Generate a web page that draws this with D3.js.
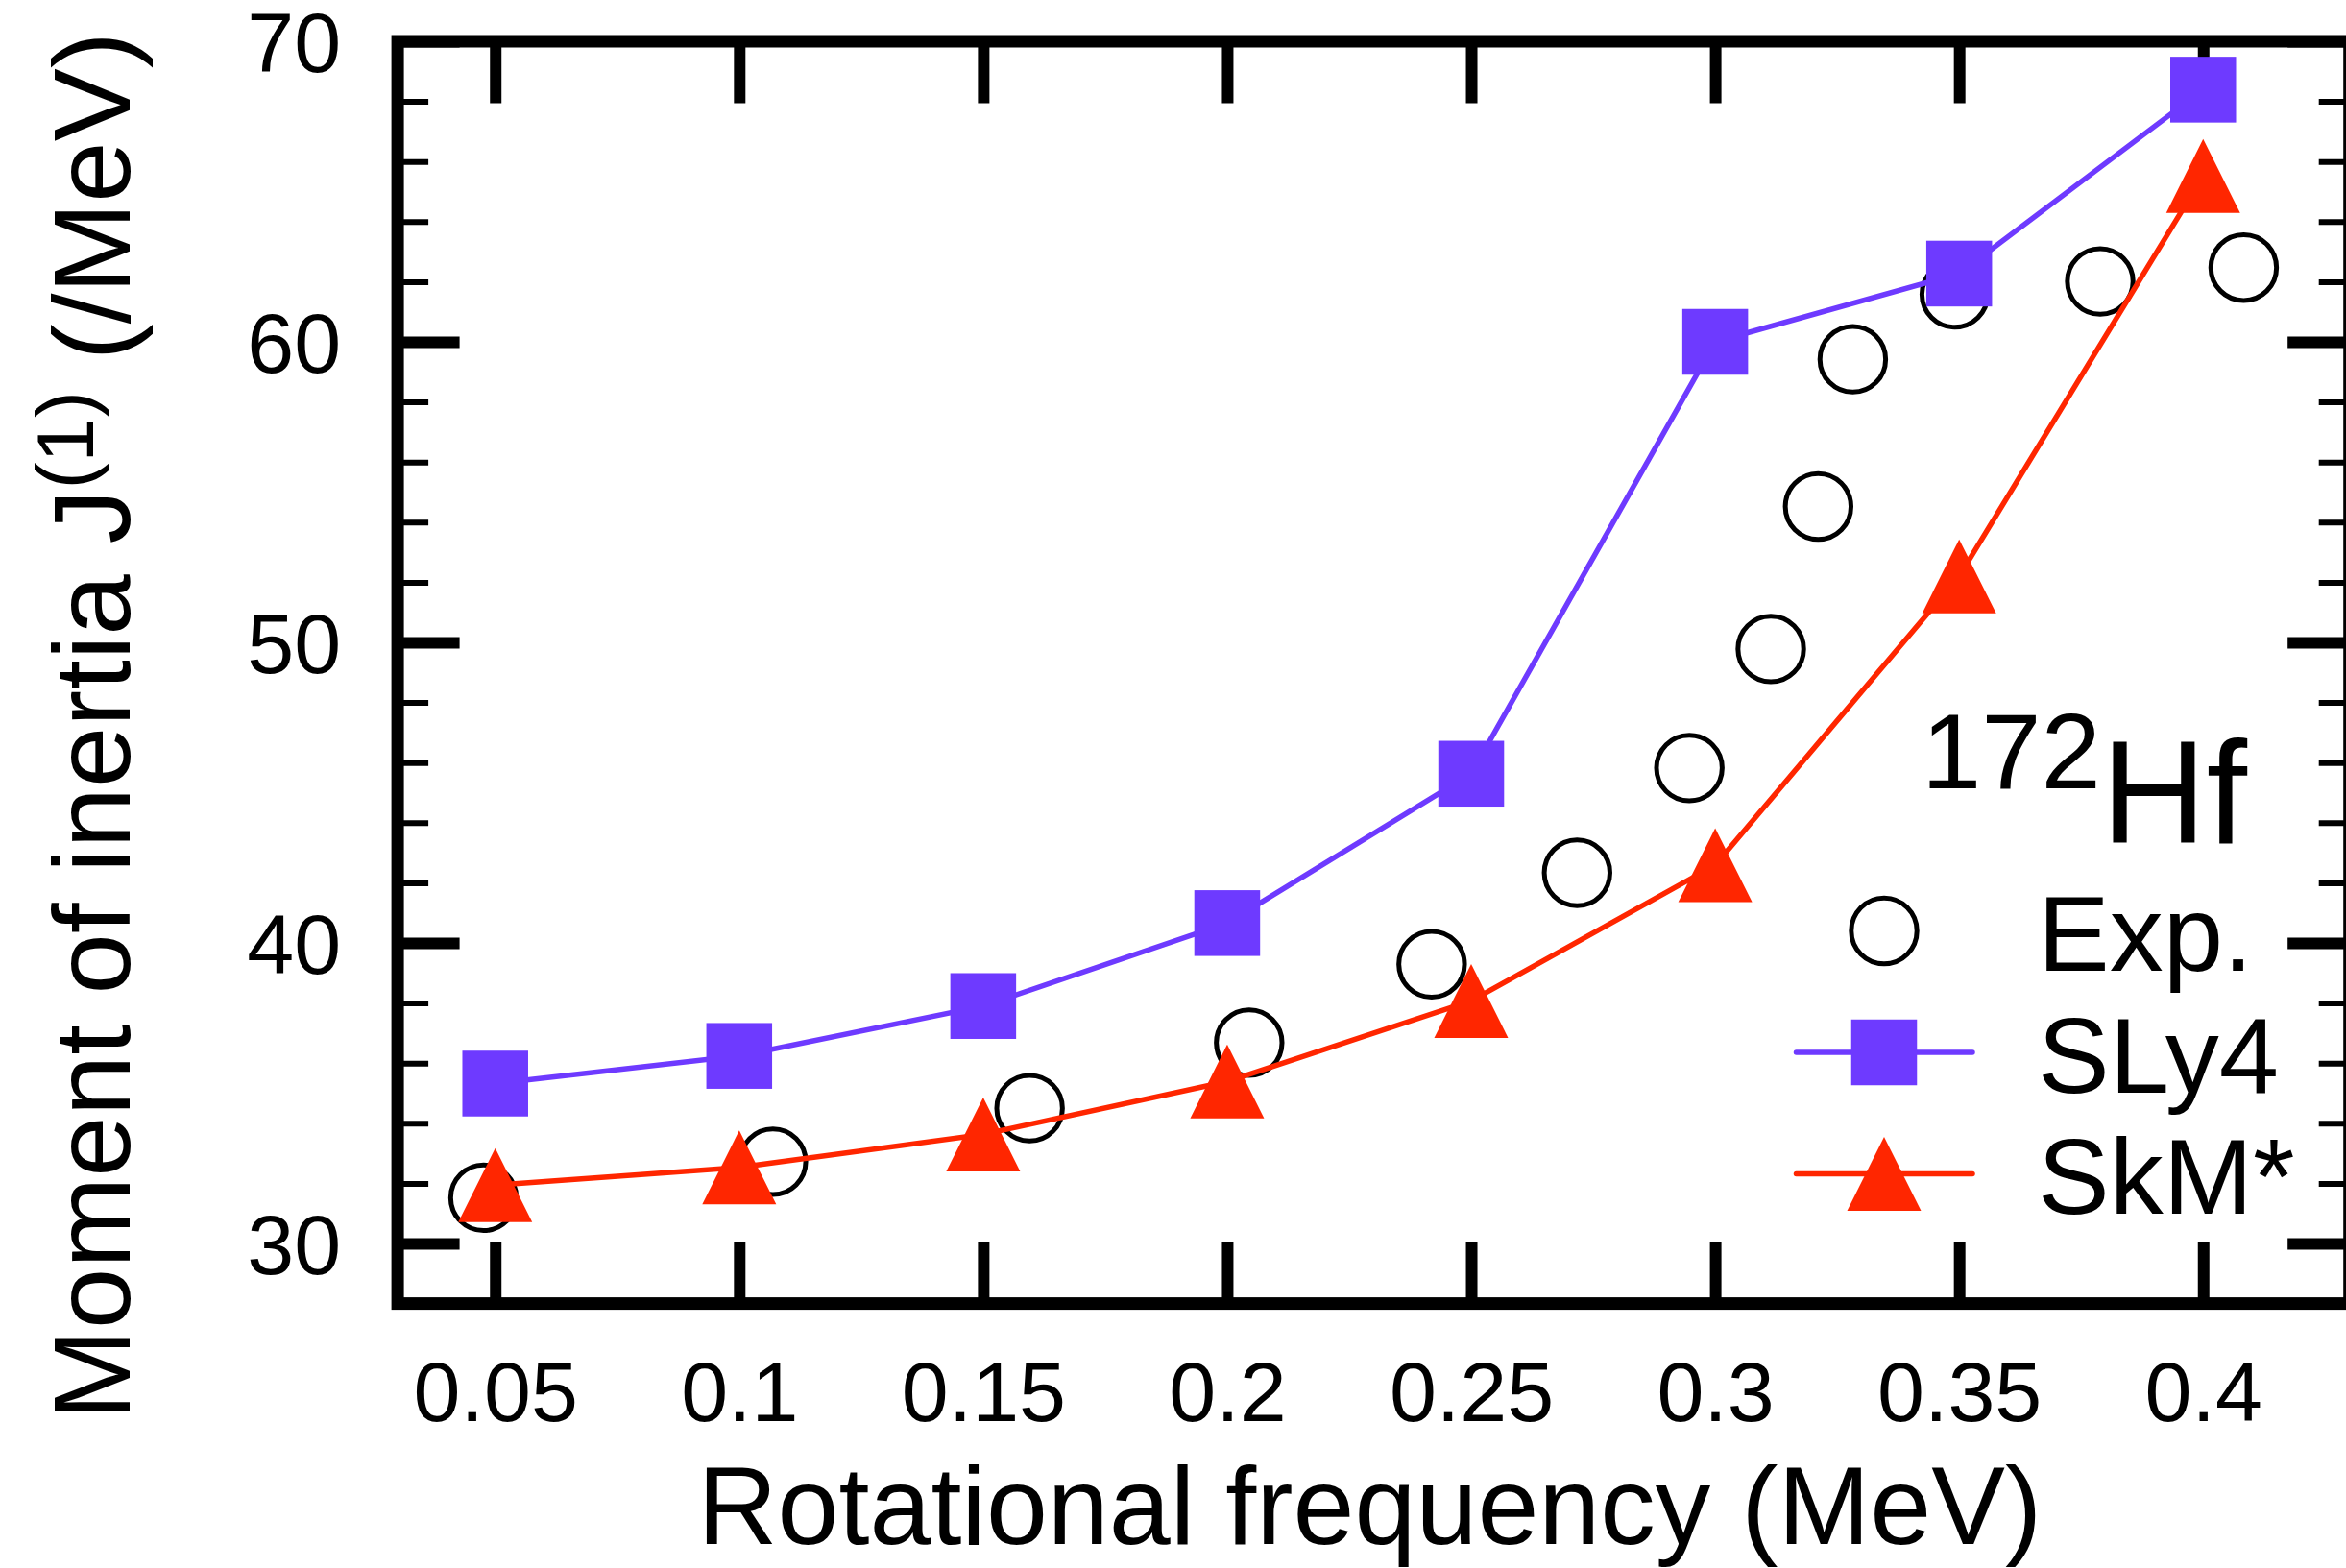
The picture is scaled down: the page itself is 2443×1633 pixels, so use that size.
<!DOCTYPE html>
<html>
<head>
<meta charset="utf-8">
<script src="https://cdn.jsdelivr.net/npm/d3@7"></script>
<style>
  html, body { margin: 0; padding: 0; background: #fff; }
  svg { display: block; font-family: "Liberation Sans", Arial, Helvetica, sans-serif; }
  text { white-space: pre; }
</style>
</head>
<body>
<script>
// ---- data ----
const modelOmega = [0.05, 0.1, 0.15, 0.2, 0.25, 0.3, 0.35, 0.4];
const sly4J = [35.32, 36.24, 37.90, 40.66, 45.63, 60.00, 62.27, 68.39];
const skmJ  = [31.94, 32.53, 33.63, 35.39, 38.07, 42.59, 52.20, 65.52];
const expOmega = [0.0476, 0.1069, 0.1595, 0.2045, 0.2419, 0.2717, 0.2947, 0.3114, 0.3211, 0.3282, 0.3491, 0.3789, 0.4083];
const expJ     = [31.52, 32.72, 34.50, 36.68, 39.29, 42.33, 45.82, 49.78, 54.52, 59.42, 61.58, 62.01, 62.47];
const xTicks = [0.05, 0.1, 0.15, 0.2, 0.25, 0.3, 0.35, 0.4];
const xTickLabels = ["0.05", "0.1", "0.15", "0.2", "0.25", "0.3", "0.35", "0.4"];
const yMajor = [30, 40, 50, 60, 70];
const yMinor = [28, 32, 34, 36, 38, 42, 44, 46, 48, 52, 54, 56, 58, 62, 64, 66, 68];
const legendLabels = ["Exp.", "SLy4", "SkM*"];
const nucleusMass = "172";
const nucleusName = "Hf";

// ---- layout ----
const W = 2443, H = 1633;
const purple = "#6e3aff", red = "#ff2600";
const svg = d3.select("body").append("svg").attr("width", W).attr("height", H);

const x = d3.scaleLinear().domain([0.03, 0.43]).range([414.1, 2446.7]);
const y = d3.scaleLinear().domain([28, 70]).range([1357.6, 43]);
const x0 = x.range()[0], x1 = x.range()[1], y0 = y.range()[0], y1 = y.range()[1];

function styleAxis(g, w) {
  g.select(".domain").remove();
  g.selectAll(".tick line").attr("stroke", "#000").attr("stroke-width", w);
  g.selectAll(".tick text").attr("fill", "#000");
}

// bottom axis with labels
svg.append("g").attr("transform", `translate(0,${y0})`)
  .call(d3.axisBottom(x).tickValues(xTicks).tickFormat((d, i) => xTickLabels[i]).tickSize(-64.5).tickPadding(60))
  .call(g => { styleAxis(g, 12); g.selectAll(".tick text").attr("font-size", 88); });
// top axis
svg.append("g").attr("transform", `translate(0,${y1})`)
  .call(d3.axisTop(x).tickValues(xTicks).tickFormat("").tickSize(-64.5))
  .call(g => styleAxis(g, 12));
// left axis
svg.append("g").attr("transform", `translate(${x0},0)`)
  .call(d3.axisLeft(y).tickValues(yMajor).tickFormat(d3.format("d")).tickSize(-64.5).tickPadding(59))
  .call(g => { styleAxis(g, 12); g.selectAll(".tick text").attr("font-size", 88).attr("dy", "0.36em"); });
svg.append("g").attr("transform", `translate(${x0},0)`)
  .call(d3.axisLeft(y).tickValues(yMinor).tickFormat("").tickSize(-32))
  .call(g => styleAxis(g, 6));
// right axis
svg.append("g").attr("transform", `translate(${x1},0)`)
  .call(d3.axisRight(y).tickValues(yMajor).tickFormat("").tickSize(-64.5))
  .call(g => styleAxis(g, 12));
svg.append("g").attr("transform", `translate(${x1},0)`)
  .call(d3.axisRight(y).tickValues(yMinor).tickFormat("").tickSize(-32))
  .call(g => styleAxis(g, 6));

// frame
svg.append("rect").attr("x", x0).attr("y", y1).attr("width", x1 - x0).attr("height", y0 - y1)
  .attr("fill", "none").attr("stroke", "#000").attr("stroke-width", 13);

// ---- data marks ----
const plot = svg.append("g");
const expData = expOmega.map((w, i) => ({ w, j: expJ[i] }));
plot.selectAll("circle.exp").data(expData).join("circle")
  .attr("class", "exp")
  .attr("cx", d => x(d.w)).attr("cy", d => y(d.j)).attr("r", 34.2)
  .attr("fill", "none").attr("stroke", "#000").attr("stroke-width", 5);

const line = d3.line().x(d => x(d.w)).y(d => y(d.j));
const sly = modelOmega.map((w, i) => ({ w, j: sly4J[i] }));
const skm = modelOmega.map((w, i) => ({ w, j: skmJ[i] }));

const triPath = "M0,-38.5L38.5,38.5L-38.5,38.5Z";
const sq = 68.5;

plot.append("path").datum(sly).attr("d", line).attr("fill", "none")
  .attr("stroke", purple).attr("stroke-width", 5.5).attr("stroke-linejoin", "round");
plot.selectAll("rect.sly").data(sly).join("rect").attr("class", "sly")
  .attr("x", d => x(d.w) - sq / 2).attr("y", d => y(d.j) - sq / 2)
  .attr("width", sq).attr("height", sq).attr("fill", purple);

plot.append("path").datum(skm).attr("d", line).attr("fill", "none")
  .attr("stroke", red).attr("stroke-width", 5.5).attr("stroke-linejoin", "round");
plot.selectAll("path.skm").data(skm).join("path").attr("class", "skm")
  .attr("transform", d => `translate(${x(d.w)},${y(d.j)})`)
  .attr("d", triPath).attr("fill", red);

// ---- nucleus label ----
const nl = svg.append("text").attr("x", 2001).attr("y", 878).attr("fill", "#000");
nl.append("tspan").attr("font-size", 112).attr("dy", -57).text(nucleusMass);
nl.append("tspan").attr("font-size", 152).attr("dy", 57).text(nucleusName);

// ---- legend ----
const legY = [969.5, 1096, 1222.5];
const lx = 1962;
const leg = svg.append("g");
leg.append("circle").attr("cx", lx).attr("cy", legY[0]).attr("r", 34.2)
  .attr("fill", "none").attr("stroke", "#000").attr("stroke-width", 5);
leg.append("line").attr("x1", 1870.5).attr("x2", 2054).attr("y1", legY[1]).attr("y2", legY[1])
  .attr("stroke", purple).attr("stroke-width", 5.5).attr("stroke-linecap", "round");
leg.append("rect").attr("x", lx - sq / 2).attr("y", legY[1] - sq / 2).attr("width", sq).attr("height", sq).attr("fill", purple);
leg.append("line").attr("x1", 1870.5).attr("x2", 2054).attr("y1", legY[2]).attr("y2", legY[2])
  .attr("stroke", red).attr("stroke-width", 5.5).attr("stroke-linecap", "round");
leg.append("path").attr("transform", `translate(${lx},${legY[2]})`).attr("d", triPath).attr("fill", red);
leg.selectAll("text").data(legendLabels).join("text")
  .attr("x", 2122).attr("y", (d, i) => legY[i] + 41.5)
  .attr("font-size", 112).attr("fill", "#000").text(d => d);

// ---- axis titles ----
svg.append("text").attr("x", (x0 + x1) / 2 - 4).attr("y", 1608)
  .attr("text-anchor", "middle").attr("font-size", 115).attr("fill", "#000")
  .text("Rotational frequency (MeV)");

const yt = svg.append("text").attr("transform", "translate(135,1479) rotate(-90)")
  .attr("font-size", 114).attr("fill", "#000");
yt.append("tspan").text("Moment of inertia J");
yt.append("tspan").attr("font-size", 84).attr("dy", -38.5).text("(1)");
yt.append("tspan").attr("dy", 38.5).text(" (/MeV)");
</script>
</body>
</html>
